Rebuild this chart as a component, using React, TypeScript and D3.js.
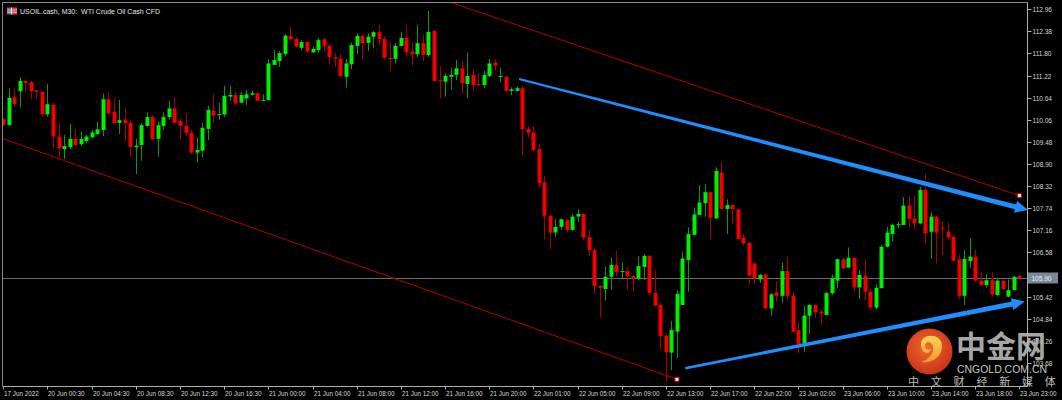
import React from 'react';
import * as d3 from 'd3';

// ---- data (USOIL.cash M30) ----
const opens = [110.07,109.92,110.65,110.81,111.08,111.05,110.84,110.80,110.20,110.45,109.62,109.29,109.34,109.56,109.42,109.50,109.60,109.69,109.79,110.60,110.27,109.98,110.07,109.98,109.34,109.40,109.90,110.13,109.56,109.90,110.13,110.36,110.03,109.90,109.72,109.20,109.25,109.82,110.30,110.19,110.20,110.67,110.71,110.51,110.62,110.72,110.76,110.56,110.58,111.50,111.60,111.79,112.26,112.18,111.95,112.10,111.83,111.89,112.17,112.00,111.70,111.66,111.19,111.52,112.00,112.26,112.08,112.24,112.36,112.18,111.69,111.66,112.00,112.21,111.85,111.78,112.07,111.76,112.39,111.10,111.06,111.19,111.24,111.41,111.00,111.24,111.00,110.97,111.21,111.56,111.19,111.19,110.82,110.82,110.89,109.82,109.73,109.29,108.42,107.54,107.10,107.25,107.43,107.17,107.52,107.59,106.98,106.64,105.70,105.62,105.94,106.25,106.07,106.09,105.96,105.90,106.20,106.49,105.52,105.20,104.39,103.95,104.50,105.20,106.38,107.04,107.56,107.87,108.16,107.47,108.68,107.72,107.82,107.71,106.97,106.83,106.29,105.87,106.00,105.11,105.53,105.44,106.09,105.44,104.54,104.19,104.92,105.20,105.02,104.94,105.51,105.84,106.40,106.18,106.44,105.66,105.97,105.55,105.13,105.64,106.73,107.06,107.30,107.30,107.81,107.47,107.34,108.22,107.12,107.52,107.23,107.12,106.99,106.40,105.44,106.35,106.47,105.84,105.72,105.85,105.46,105.84,105.42,105.59,105.96];
const highs = [110.11,110.89,110.89,111.18,111.10,111.08,110.84,110.80,111.00,110.52,110.01,109.66,109.95,109.81,109.75,109.66,109.79,110.01,110.75,110.80,110.64,110.58,110.36,110.07,109.56,109.97,110.25,110.19,110.01,110.26,110.56,110.65,110.10,110.23,109.79,109.60,109.98,110.43,110.73,110.51,110.95,110.95,110.78,110.78,110.84,110.82,110.77,110.73,111.65,111.89,111.87,112.30,112.52,112.24,112.15,112.13,111.98,112.21,112.21,112.02,111.83,111.79,111.65,112.08,112.33,112.30,112.33,112.39,112.55,112.26,112.09,112.07,112.36,112.55,112.09,112.55,112.30,112.92,112.43,111.47,111.28,111.43,111.63,111.61,111.82,111.37,111.28,111.34,111.66,111.63,111.43,111.21,110.91,110.93,110.95,109.90,109.90,109.42,108.59,107.58,107.45,107.47,107.45,107.59,107.71,107.61,107.17,106.69,105.72,106.20,106.45,106.62,106.31,106.20,105.99,106.47,106.54,106.51,106.10,105.27,104.44,104.78,105.59,106.60,107.24,107.76,108.35,108.37,108.17,108.81,108.96,107.97,107.84,107.72,107.06,106.86,106.31,106.01,106.03,105.51,105.83,106.31,106.45,105.55,104.75,105.18,105.24,105.22,105.09,105.55,106.00,106.42,106.44,106.71,106.44,106.12,106.40,105.61,105.74,106.77,107.25,107.34,107.39,108.03,108.06,108.06,108.30,108.64,107.65,107.53,107.40,107.36,107.01,106.53,106.64,106.95,106.66,106.07,106.01,106.07,105.88,105.84,105.87,105.96,105.99];
const lows = [109.90,109.90,110.40,110.38,110.80,110.60,110.60,110.14,110.14,109.31,109.05,109.03,109.29,109.37,109.37,109.44,109.57,109.66,109.63,110.19,109.97,109.69,109.53,109.11,108.64,108.99,109.88,109.53,109.09,109.79,110.07,109.97,109.57,109.66,109.16,108.93,109.08,109.53,109.97,110.05,110.14,110.56,110.45,110.49,110.45,110.70,110.55,110.55,110.58,111.50,111.45,111.72,112.11,111.96,111.87,111.81,111.81,111.83,111.85,111.52,111.44,111.18,110.91,111.39,111.79,111.66,111.87,111.95,112.00,111.65,111.35,111.54,111.98,111.70,111.48,111.70,111.60,111.72,111.08,110.62,110.67,110.86,111.10,110.74,110.62,110.84,110.93,110.90,111.18,111.35,111.04,110.80,110.71,110.80,109.14,109.60,109.22,108.29,106.92,106.66,106.98,107.17,107.10,107.15,107.37,106.90,106.47,105.49,104.87,105.31,105.61,105.94,105.90,105.59,105.55,105.85,105.85,105.46,105.18,104.02,103.19,103.49,103.81,105.20,105.55,107.04,107.56,107.52,106.93,107.47,107.72,107.06,107.34,106.92,106.75,105.77,105.75,105.78,105.09,104.91,105.29,105.26,105.30,104.47,103.93,103.96,104.44,104.85,104.67,104.92,105.46,105.64,106.12,106.18,105.55,105.36,105.33,105.07,105.09,105.64,106.71,106.86,107.21,107.30,107.25,107.17,107.32,106.82,106.41,106.29,106.51,106.90,106.35,105.35,105.20,106.16,105.81,105.70,105.66,105.44,105.44,105.59,105.40,105.59,105.84];
const closes = [109.92,110.64,110.47,111.08,111.02,110.81,110.80,110.20,110.47,109.62,109.31,109.37,109.56,109.40,109.56,109.62,109.73,109.81,110.60,110.23,109.97,110.05,109.97,109.35,109.38,109.92,110.13,109.55,109.92,110.13,110.36,109.98,109.90,109.72,109.20,109.27,109.85,110.32,110.17,110.21,110.69,110.71,110.49,110.71,110.73,110.76,110.56,110.58,111.54,111.63,111.81,112.27,112.17,111.98,112.10,111.85,111.92,112.15,112.00,111.70,111.66,111.21,111.54,112.02,112.26,112.07,112.24,112.36,112.17,111.69,111.65,112.00,112.21,111.83,111.78,112.07,111.76,112.37,111.08,111.08,111.21,111.24,111.41,111.02,111.21,110.97,110.97,111.24,111.54,111.48,111.21,110.82,110.86,110.89,109.81,109.72,109.27,108.39,107.54,107.10,107.25,107.45,107.17,107.52,107.59,106.97,106.64,105.70,105.65,105.94,106.25,106.06,106.09,105.96,105.90,106.22,106.49,105.52,105.18,104.39,103.96,104.54,105.49,106.42,107.06,107.58,107.89,108.16,107.49,108.72,107.72,107.82,107.71,106.93,106.82,105.97,105.90,105.99,105.11,105.48,105.44,106.09,105.44,104.50,104.17,104.92,105.20,105.01,104.98,105.51,105.90,106.40,106.16,106.44,105.66,105.99,105.55,105.13,105.65,106.73,107.10,107.30,107.32,107.81,107.46,107.34,108.22,107.08,107.52,107.10,107.21,106.97,106.36,105.44,106.41,106.47,105.84,105.72,105.85,105.48,105.84,105.62,105.59,105.94,105.90];

const timeLabelBars = [0,8,16,24,32,40,48,56,64,72,80,88,96,104,112,120,128,136,144,152,160,168,176,184];
const timeLabels = ["17 Jun 2022","20 Jun 00:30","20 Jun 04:30","20 Jun 08:30","20 Jun 12:30","20 Jun 16:30","21 Jun 00:00","21 Jun 04:00","21 Jun 08:00","21 Jun 12:00","21 Jun 16:00","21 Jun 20:00","22 Jun 01:00","22 Jun 05:00","22 Jun 09:00","22 Jun 13:00","22 Jun 17:00","22 Jun 22:00","23 Jun 02:00","23 Jun 06:00","23 Jun 10:00","23 Jun 14:00","23 Jun 18:00","23 Jun 23:00"];
const priceTicks = [112.96,112.38,111.80,111.22,110.64,110.06,109.48,108.90,108.32,107.74,107.16,106.58,106.00,105.42,104.84,104.26,103.68];
const lastPrice = 105.90;

const channelLowerBars = [0, 122];
const channelLowerPrices = [109.56, 103.25];
const channelUpperBars = [78, 184];
const channelUpperPrices = [113.29, 108.07];
const arrowUpperBars = [93.4, 185.6];
const arrowUpperPrices = [111.13, 107.69];
const arrowLowerBars = [123.5, 185.0];
const arrowLowerPrices = [103.54, 105.29];

const title = "USOIL.cash, M30:  WTI Crude Oil Cash CFD";

const FONT = "'Liberation Sans', Arial, sans-serif";
const CJK = "'Noto Sans CJK SC', sans-serif";

function arrowPath(x0: number, y0: number, x1: number, y1: number, w0: number, w1: number, hl: number, hw: number) {
  const dx = x1 - x0, dy = y1 - y0;
  const len = Math.hypot(dx, dy);
  const ux = dx / len, uy = dy / len;
  const nx = -uy, ny = ux;
  const bx = x1 - ux * hl, by = y1 - uy * hl;
  const pts = [
    [x0 + nx * w0 / 2, y0 + ny * w0 / 2],
    [bx + nx * w1 / 2, by + ny * w1 / 2],
    [bx + nx * hw, by + ny * hw],
    [x1, y1],
    [bx - nx * hw, by - ny * hw],
    [bx - nx * w1 / 2, by - ny * w1 / 2],
    [x0 - nx * w0 / 2, y0 - ny * w0 / 2],
  ];
  return 'M' + pts.map(p => p[0].toFixed(2) + ',' + p[1].toFixed(2)).join('L') + 'Z';
}

export default function App() {
  const x = d3.scaleLinear().domain([0, 184]).range([3.3, 1019.3]);
  const y = d3.scaleLinear().domain([103.68, 112.96]).range([362.9, 9.3]);

  const L = 2.5, T = 2.5, R = 1027.5, B = 386.5;
  const line = d3.line<[number, number]>().x(d => x(d[0])).y(d => y(d[1]));

  const lowerCh: [number, number][] = channelLowerBars.map((b, i) => [b, channelLowerPrices[i]]);
  const upperCh: [number, number][] = channelUpperBars.map((b, i) => [b, channelUpperPrices[i]]);

  const ua = arrowPath(x(arrowUpperBars[0]), y(arrowUpperPrices[0]), x(arrowUpperBars[1]), y(arrowUpperPrices[1]), 2, 5, 13, 6);
  const la = arrowPath(x(arrowLowerBars[0]), y(arrowLowerPrices[0]), x(arrowLowerBars[1]), y(arrowLowerPrices[1]), 2.5, 5, 13, 6);

  const py = Math.round(y(lastPrice)) + 0.5;
  const cjkLine = ['中', '文', '财', '经', '新', '媒', '体'];

  return (
    <svg width={1062} height={400} style={{ position: 'absolute', left: 0, top: 0, background: '#000' }}>
      <defs>
        <clipPath id="plot"><rect x={L} y={T} width={R - L} height={B - T} /></clipPath>
        <radialGradient id="logoG" cx="45%" cy="40%" r="60%">
          <stop offset="0%" stopColor="#f26a2e" />
          <stop offset="100%" stopColor="#c9331a" />
        </radialGradient>
        <linearGradient id="swirlG" x1="0" y1="0" x2="0" y2="1">
          <stop offset="0%" stopColor="#fbd35a" />
          <stop offset="100%" stopColor="#f39a2a" />
        </linearGradient>
      </defs>
      <rect x={0} y={0} width={1062} height={400} fill="#000" />

      <g clipPath="url(#plot)">
        {/* current price line */}
        <line x1={L} x2={R} y1={py} y2={py} stroke="#6b6b6b" strokeWidth={1} />
        {/* channel lines */}
        <path d={line(lowerCh) || ''} stroke="#b30000" strokeWidth={1} fill="none" />
        <path d={line(upperCh) || ''} stroke="#b30000" strokeWidth={1} fill="none" />
        {/* candles */}
        {opens.map((o, i) => {
          const c = closes[i];
          const up = c >= o;
          const cx = Math.round(x(i));
          const yTop = y(Math.max(o, c));
          const yBot = y(Math.min(o, c));
          const bh = Math.max(1, yBot - yTop);
          return (
            <g key={i}>
              <line x1={cx + 0.5} x2={cx + 0.5} y1={y(highs[i])} y2={y(lows[i])} stroke={up ? '#0a9a0a' : '#a80000'} strokeWidth={1} />
              <rect x={cx - 1.5} y={yTop} width={4} height={bh} fill={up ? '#00f000' : '#f20000'} />
            </g>
          );
        })}
        {/* channel end markers */}
        <rect x={x(channelLowerBars[1]) - 2} y={y(channelLowerPrices[1]) - 2} width={4} height={4} fill="#fff" stroke="#d00000" strokeWidth={1} />
        <rect x={x(channelUpperBars[1]) - 2} y={y(channelUpperPrices[1]) - 2} width={4} height={4} fill="#fff" stroke="#d00000" strokeWidth={1} />
      </g>

      {/* blue arrows */}
      <path d={ua} fill="#1e8fff" />
      <path d={la} fill="#1e8fff" />

      {/* frame */}
      <line x1={L} x2={R} y1={T} y2={T} stroke="#8a8a8a" />
      <line x1={L} x2={L} y1={T} y2={B} stroke="#8a8a8a" />
      <line x1={R} x2={R} y1={T} y2={B} stroke="#b0b0b0" />
      <line x1={L} x2={R} y1={B} y2={B} stroke="#b0b0b0" />

      {/* price axis */}
      {priceTicks.map((p, i) => {
        const ty = Math.round(y(p)) + 0.5;
        return (
          <g key={'p' + i}>
            <line x1={R} x2={R + 4} y1={ty} y2={ty} stroke="#b0b0b0" />
            <text x={1032.5} y={ty} dy="0.35em" fontSize={6.5} fontFamily={FONT} fill="#d6d6d6">{p.toFixed(2)}</text>
          </g>
        );
      })}
      <rect x={1028} y={py - 6} width={30} height={11} fill="#7b8898" />
      <text x={1031.5} y={py} dy="0.35em" fontSize={6.5} fontFamily={FONT} fill="#f0f0f0">{lastPrice.toFixed(2)}</text>

      {/* time axis */}
      {timeLabelBars.map((b, i) => {
        const tx = Math.round(x(b)) + 0.5;
        return (
          <g key={'t' + i}>
            <line x1={tx} x2={tx} y1={B} y2={B + 3} stroke="#b0b0b0" />
            <text x={tx + 0.5} y={395.5} fontSize={6.3} fontFamily={FONT} fill="#d6d6d6">{timeLabels[i]}</text>
          </g>
        );
      })}

      {/* title */}
      <g>
        <rect x={7} y={7.5} width={10} height={7} fill="#e23b3b" />
        <rect x={8} y={8.5} width={3.5} height={5} fill="#3f7fe0" />
        <line x1={11.5} x2={11.5} y1={7.5} y2={14.5} stroke="#fff" strokeWidth={0.8} />
        <line x1={7} x2={17} y1={10} y2={10} stroke="#fff" strokeWidth={0.6} />
        <line x1={7} x2={17} y1={12.2} y2={12.2} stroke="#fff" strokeWidth={0.6} />
        <text x={20} y={13.5} fontSize={7} fontFamily={FONT} fill="#e6e6e6" style={{ whiteSpace: 'pre' }}>{title}</text>
      </g>

      {/* watermark */}
      <g>
        <circle cx={929.5} cy={351.5} r={23} fill="url(#logoG)" />
        <path d="M 921 344 C 921 333, 941 333, 942 345 C 943 356, 932 364, 921 362 C 929 359, 934 354, 933 347 C 932 341, 925 341, 925 346 C 925 350, 930 351, 931 348 C 930 356, 921 354, 921 344 Z" fill="url(#swirlG)" />
        <text x={956} y={357} fontSize={30} fontWeight={700} fontFamily={CJK} fill="#b8b8b8" fillOpacity={0.92}>中金网</text>
        <text x={957} y={372.5} fontSize={11} fontFamily={FONT} fill="#c4c4c4" textLength={90} lengthAdjust="spacingAndGlyphs">CNGOLD.COM.CN</text>
        {cjkLine.map((ch, i) => (
          <text key={'w' + i} x={908 + i * 22.8} y={385.5} fontSize={11} fontFamily={CJK} fill="#bdbdbd">{ch}</text>
        ))}
      </g>
    </svg>
  );
}
